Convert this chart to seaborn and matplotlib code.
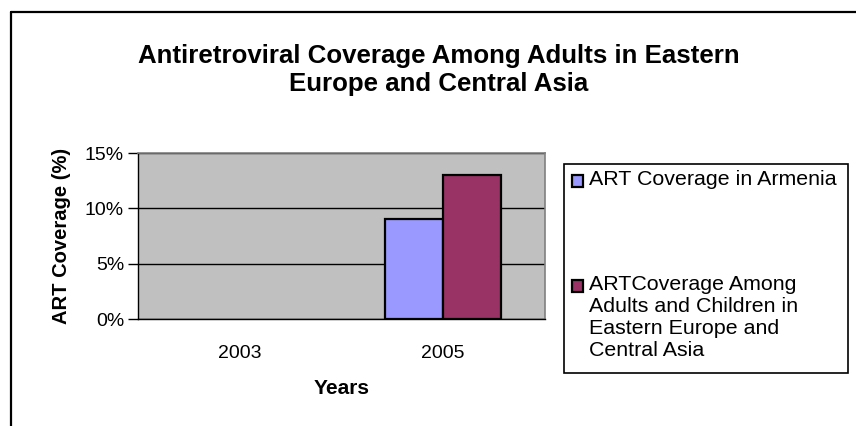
import pandas as pd
import numpy as np
import seaborn as sns
import matplotlib.pyplot as plt
from matplotlib.lines import Line2D
from matplotlib.patches import Rectangle
from matplotlib.ticker import FuncFormatter, FixedLocator

# ===================== data =====================
years = ["2003", "2005"]
armenia = [np.nan, 9]
region = [np.nan, 13]
series_names = [
    "ART Coverage in Armenia",
    "ARTCoverage Among\nAdults and Children in\nEastern Europe and\nCentral Asia",
]
colors = ["#9999FF", "#993366"]

df = pd.DataFrame({
    "Year": years * 2,
    "Coverage": armenia + region,
    "Series": [series_names[0]] * 2 + [series_names[1]] * 2,
})

W, H = 856, 426


def fx(px):
    return px / W


def fy(py):
    return 1 - py / H


sns.set_theme(style="white")
plt.rcParams["font.family"] = ["Liberation Sans", "DejaVu Sans"]
plt.rcParams["text.color"] = "black"

fig = plt.figure(figsize=(8.56, 4.26), dpi=100)
ax = fig.add_axes([fx(138), fy(319), (545 - 138) / W, (319 - 153) / H])

sns.barplot(data=df, x="Year", y="Coverage", hue="Series", palette=colors,
            width=0.57, edgecolor="black", linewidth=1.6, saturation=1,
            ax=ax, legend=False)

ax.set_facecolor("#C0C0C0")
ax.set_xlim(-0.5, 1.5)
ax.set_ylim(0, 15)
ax.set_yticks([0, 5, 10, 15])
ax.yaxis.set_major_formatter(FuncFormatter(lambda v, p: f"{v:.0f}%"))
ax.grid(axis="y", color="black", linewidth=1)
ax.set_axisbelow(True)

for s in ["top", "right"]:
    ax.spines[s].set_color("#808080")
    ax.spines[s].set_linewidth(1.2)
for s in ["left", "bottom"]:
    ax.spines[s].set_color("black")
    ax.spines[s].set_linewidth(1)

ax.xaxis.set_minor_locator(FixedLocator([-0.5, 0.5, 1.5]))
ax.tick_params(axis="x", which="major", length=0, labelsize=14, pad=19, labelcolor="black")
ax.tick_params(axis="x", which="minor", length=6, width=1, color="black", direction="out")
ax.tick_params(axis="y", length=7, width=1, color="black", direction="out", labelsize=14,
               left=True, pad=3, labelcolor="black")

ax.set_xlabel("Years", fontsize=15, fontweight="bold", labelpad=12, color="black")
ax.set_ylabel("ART Coverage (%)", fontsize=14.5, fontweight="bold", labelpad=10, color="black")

fig.text(fx(439), fy(70),
         "Antiretroviral Coverage Among Adults in Eastern\nEurope and Central Asia",
         ha="center", va="center", fontsize=18.6, fontweight="bold", linespacing=1.25,
         color="black")

# legend box, drawn by hand so the swatch sits on the first line of each label
fig.add_artist(Rectangle((fx(564), fy(373)), (848 - 564) / W, (373 - 164) / H,
                         transform=fig.transFigure, facecolor="white",
                         edgecolor="black", linewidth=1.2))
legend_rows = [181, 286]
for name, c, row in zip(series_names, colors, legend_rows):
    fig.add_artist(Rectangle((fx(572), fy(row + 6)), 11 / W, 12 / H,
                             transform=fig.transFigure, facecolor=c,
                             edgecolor="black", linewidth=1.6))
    fig.text(fx(589), fy(row - 11), name, ha="left", va="top", fontsize=15.4,
             linespacing=1.2, color="black")

# outer chart border (left and top edges)
fig.add_artist(Line2D([fx(11), fx(11)], [0, fy(12)], color="black", linewidth=1.6,
                      transform=fig.transFigure))
fig.add_artist(Line2D([fx(11), 1], [fy(12), fy(12)], color="black", linewidth=1.6,
                      transform=fig.transFigure))

fig.savefig("out.png", dpi=100, facecolor="white")
